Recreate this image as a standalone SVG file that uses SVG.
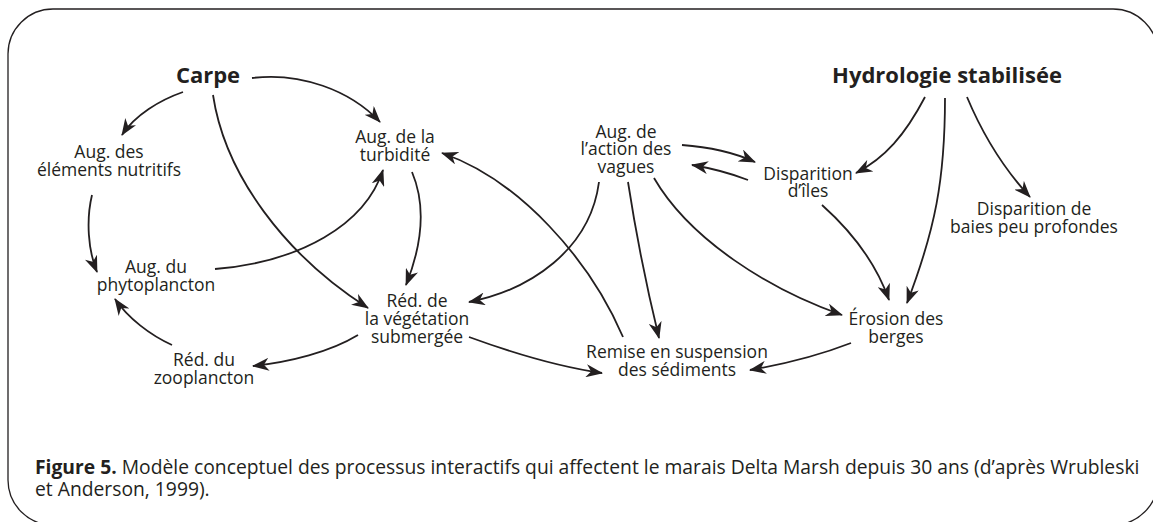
<svg xmlns="http://www.w3.org/2000/svg" width="1153" height="522" viewBox="0 0 1153 522">
<style>
.n{font-family:"Open Sans","Noto Sans",sans-serif;font-size:17.5px;fill:#231f20;text-anchor:middle}
.b{font-family:"Open Sans","Noto Sans",sans-serif;font-size:22px;font-weight:bold;fill:#231f20;text-anchor:middle}
.c{font-family:"Open Sans","Noto Sans",sans-serif;font-size:19.3px;fill:#231f20}
.e path{fill:none;stroke:#231f20;stroke-width:1.8;marker-end:url(#ah)}
</style>
<defs>
<marker id="ah" viewBox="0 0 17 13" refX="16" refY="6.5" markerWidth="17" markerHeight="13" markerUnits="userSpaceOnUse" orient="auto">
<path d="M0,0 L17,6.5 L0,13 L5,6.5 Z" fill="#231f20"/>
</marker>
</defs>
<rect x="8" y="9" width="1150" height="516" rx="45" ry="45" fill="none" stroke="#231f20" stroke-width="1.3"/>
<g id="carpe"><text class="b" x="208" y="83">Carpe</text></g>
<g id="hydrologie"><text class="b" x="947" y="83">Hydrologie stabilisée</text></g>
<g id="nutritifs"><text class="n" x="109" y="158">Aug. des</text><text class="n" x="109" y="176">éléments nutritifs</text></g>
<g id="turbidite"><text class="n" x="395" y="143">Aug. de la</text><text class="n" x="395" y="161">turbidité</text></g>
<g id="phyto"><text class="n" x="156" y="273">Aug. du</text><text class="n" x="156" y="291">phytoplancton</text></g>
<g id="vegetation"><text class="n" x="417" y="307">Réd. de</text><text class="n" x="417" y="325">la végétation</text><text class="n" x="417" y="343">submergée</text></g>
<g id="zoo"><text class="n" x="204" y="366">Réd. du</text><text class="n" x="204" y="384">zooplancton</text></g>
<g id="vagues"><text class="n" x="626" y="138">Aug. de</text><text class="n" x="626" y="155">l’action des</text><text class="n" x="626" y="173">vagues</text></g>
<g id="iles"><text class="n" x="808" y="180">Disparition</text><text class="n" x="808" y="197">d’îles</text></g>
<g id="baies"><text class="n" x="1034" y="215">Disparition de</text><text class="n" x="1034" y="233">baies peu profondes</text></g>
<g id="erosion"><text class="n" x="896" y="325">Érosion des</text><text class="n" x="896" y="343">berges</text></g>
<g id="remise"><text class="n" x="677" y="358">Remise en suspension</text><text class="n" x="677" y="376">des sédiments</text></g>
<g id="connectors" class="e">
<path d="M183,92 C160,100 135,115 122,135"/>
<path d="M252,78 C300,72 350,90 380,122"/>
<path d="M213,95 C225,175 285,255 368,308"/>
<path d="M92,195 C86,220 88,250 97,272"/>
<path d="M215,269 C300,262 365,225 383,170"/>
<path d="M172,345 C150,335 128,318 115,299"/>
<path d="M358,335 C330,352 290,362 253,366"/>
<path d="M412,172 C428,210 420,250 406,285"/>
<path d="M599,182 C590,250 530,290 469,302"/>
<path d="M623,337 C590,260 520,180 442,153"/>
<path d="M628,182 Q640,260 659,338"/>
<path d="M654,178 C690,240 770,290 842,315"/>
<path d="M469,337 C510,352 560,367 602,373"/>
<path d="M851,343 C820,355 785,364 750,370"/>
<path d="M682,145 C710,147 735,153 755,162"/>
<path d="M748,180 C730,173 710,168 692,165"/>
<path d="M925,97 C905,135 885,158 856,173"/>
<path d="M945,98 C945,180 935,230 907,303"/>
<path d="M967,97 C985,140 1005,170 1030,197"/>
<path d="M822,205 C850,230 875,260 889,300"/>
</g>
<g id="caption">
<text class="c" x="35" y="474"><tspan font-weight="bold">Figure 5.</tspan> Modèle conceptuel des processus interactifs qui affectent le marais Delta Marsh depuis 30 ans (d’après Wrubleski</text>
<text class="c" x="35" y="496">et Anderson, 1999).</text>
</g>
</svg>
